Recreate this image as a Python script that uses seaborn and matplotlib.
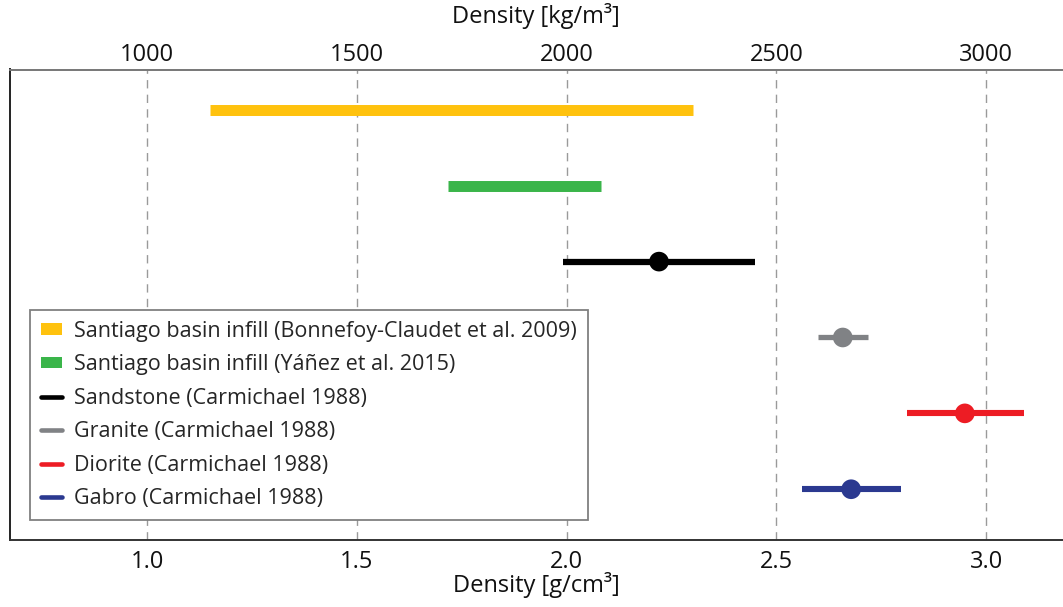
import numpy as np
import pandas as pd
import seaborn as sns
import matplotlib
matplotlib.use("Agg")
import matplotlib.pyplot as plt
from matplotlib.lines import Line2D
from matplotlib.patches import Patch

# ---- data ----
labels = [
    "Santiago basin infill (Bonnefoy-Claudet et al. 2009)",
    "Santiago basin infill (Yáñez et al. 2015)",
    "Sandstone (Carmichael 1988)",
    "Granite (Carmichael 1988)",
    "Diorite (Carmichael 1988)",
    "Gabro (Carmichael 1988)",
]
range_min = [1.15, 1.716, 1.99, 2.600, 2.811, 2.561]
range_max = [2.30, 2.081, 2.45, 2.718, 3.090, 2.798]
mean_val = [np.nan, np.nan, 2.220, 2.658, 2.949, 2.678]
colors = ["#FFC20E", "#3AB54A", "#000000", "#808285", "#ED1C24", "#2B3990"]
bottom_ticks = [1.0, 1.5, 2.0, 2.5, 3.0]
top_ticks = [1000, 1500, 2000, 2500, 3000]

# ---- styling ----
line_widths = [7.9, 7.9, 4.5, 3.8, 4.4, 4.4]

sns.set_theme(style="white")
plt.rcParams["font.family"] = ["Open Sans", "DejaVu Sans"]

df = pd.DataFrame({"label": labels, "lo": range_min, "hi": range_max,
                   "mean": mean_val, "pos": np.arange(len(labels))})

fig = plt.figure(figsize=(10.63, 6.07), dpi=100)
ax = fig.add_axes([9.6 / 1063, 1 - 540 / 607, 1 - 9.6 / 1063, (540 - 69.5) / 607])

# gridlines
for t in bottom_ticks:
    ax.axvline(t, color="#9a9a9a", lw=1.0, ls=(0, (6, 4.5)), zorder=0)

# range bars
for i, row in df.iterrows():
    ax.hlines(row["pos"], row["lo"], row["hi"], color=colors[i],
              lw=line_widths[i], zorder=2)

# mean points
pts = df.dropna(subset=["mean"])
sns.scatterplot(data=pts, x="mean", y="pos", hue="label",
                palette={l: c for l, c in zip(labels, colors)},
                s=200, linewidth=0, legend=False, ax=ax, zorder=3)

ax.set_xlim(0.672, 3.183)
ax.set_ylim(5.669, -0.532)
ax.set_yticks([])
ax.set_ylabel("")
ax.set_xticks(bottom_ticks)
ax.set_xticklabels([f"{t:.1f}" for t in bottom_ticks])
ax.tick_params(axis="x", length=0, pad=7, labelsize=17, colors="#111111")
ax.set_xlabel("Density [g/cm³]", fontsize=17, labelpad=-1, color="#111111")

ax.spines["right"].set_visible(False)
ax.spines["top"].set_color("#777777")
ax.spines["left"].set_color("#222222")
ax.spines["bottom"].set_color("#333333")
for s in ["top", "left", "bottom"]:
    ax.spines[s].set_linewidth(1.4)

sec = ax.secondary_xaxis("top", functions=(lambda x: x * 1000, lambda x: x / 1000))
sec.set_xticks(top_ticks)
sec.set_xticklabels([str(t) for t in top_ticks])
sec.tick_params(axis="x", length=0, pad=1.5, labelsize=17, colors="#111111")
sec.set_xlabel("Density [kg/m³]", fontsize=17, labelpad=15, color="#111111")
sec.spines["top"].set_visible(False)

# legend
handles = []
for i, l in enumerate(labels):
    if i < 2:
        handles.append(Patch(facecolor=colors[i], edgecolor="none", label=l))
    else:
        handles.append(Line2D([0], [0], color=colors[i], lw=3.3, label=l))
leg = ax.legend(handles=handles, loc="upper left",
                bbox_to_anchor=(30.2 / 1063, 1 - 310 / 607),
                bbox_transform=fig.transFigure, borderaxespad=0,
                fontsize=15.5, frameon=True, fancybox=False, framealpha=1,
                edgecolor="#808080", handlelength=1.0, handleheight=0.45,
                handletextpad=0.55, labelspacing=0.58, borderpad=0.5)
leg.get_frame().set_linewidth(1.3)

fig.savefig("out.png", dpi=100)
